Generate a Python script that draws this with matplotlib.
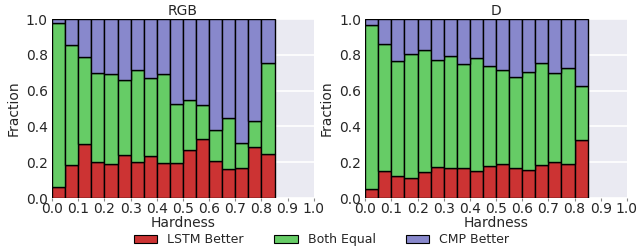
import numpy as np
import matplotlib
matplotlib.use('Agg')
import matplotlib.pyplot as plt

# 每个区间的左边界 (宽 0.05)
bins = np.arange(0, 0.85, 0.05)

rgb_lstm = [0.06, 0.185, 0.30, 0.204, 0.19, 0.238, 0.204, 0.234, 0.197,
            0.197, 0.266, 0.328, 0.206, 0.163, 0.17, 0.285, 0.249]
rgb_equal = [0.92, 0.669, 0.488, 0.494, 0.503, 0.421, 0.513, 0.436, 0.496,
             0.327, 0.283, 0.191, 0.174, 0.285, 0.137, 0.144, 0.504]
rgb_cmp = [0.02, 0.146, 0.212, 0.302, 0.307, 0.341, 0.283, 0.33, 0.307,
           0.476, 0.451, 0.481, 0.62, 0.552, 0.693, 0.571, 0.247]

d_lstm = [0.05, 0.152, 0.122, 0.11, 0.144, 0.172, 0.167, 0.17, 0.15,
          0.178, 0.191, 0.17, 0.155, 0.187, 0.202, 0.191, 0.322]
d_equal = [0.916, 0.711, 0.642, 0.697, 0.684, 0.601, 0.627, 0.579, 0.633,
           0.56, 0.524, 0.508, 0.549, 0.57, 0.498, 0.536, 0.305]
d_cmp = [0.034, 0.137, 0.236, 0.193, 0.172, 0.227, 0.206, 0.251, 0.217,
         0.262, 0.285, 0.322, 0.296, 0.243, 0.30, 0.273, 0.373]

labels = ['LSTM Better', 'Both Equal', 'CMP Better']
colors = ['#cc3333', '#66cc66', '#8888cc']
txt = '#262626'

plt.rcParams['font.family'] = ['DejaVu Sans']
plt.rcParams['font.size'] = 10

fig = plt.figure(figsize=(6.43, 2.47), dpi=100)
ax1 = fig.add_axes([0.081, 0.198, 0.407, 0.725])
ax2 = fig.add_axes([0.568, 0.198, 0.407, 0.725])

handles = None
for ax, title, parts in [(ax1, 'RGB', (rgb_lstm, rgb_equal, rgb_cmp)),
                         (ax2, 'D', (d_lstm, d_equal, d_cmp))]:
    ax.set_facecolor('#eaeaf2')
    ax.set_axisbelow(True)
    ax.yaxis.grid(True, color='white', linewidth=1.2)
    bottom = np.zeros(len(bins))
    hs = []
    for vals, c, lab in zip(parts, colors, labels):
        h = ax.bar(bins, vals, width=0.05, bottom=bottom, align='edge',
                   color=c, edgecolor='black', linewidth=1.0, label=lab)
        bottom += np.array(vals)
        hs.append(h)
    handles = hs
    for s in ax.spines.values():
        s.set_visible(False)
    ax.set_xlim(0, 1)
    ax.set_ylim(0, 1)
    ax.set_xticks(np.arange(0, 1.01, 0.1))
    ax.set_yticks(np.arange(0, 1.01, 0.2))
    ax.tick_params(colors=txt, labelsize=10, length=2, width=0.8)
    ax.tick_params(axis='x', colors='#888888', labelcolor=txt, pad=1)
    ax.tick_params(axis='y', length=0, pad=3)
    ax.set_title(title, fontsize=10, color=txt, pad=3)
    ax.set_xlabel('Hardness', fontsize=10, color=txt, labelpad=0)
    ax.set_ylabel('Fraction', fontsize=10, color=txt, labelpad=4)

leg = fig.legend(handles, labels, loc='center', ncol=3, frameon=False,
                 fontsize=9, bbox_to_anchor=(0.5, 0.03), handlelength=1.9,
                 handleheight=0.6, handletextpad=0.8, columnspacing=2.4,
                 borderpad=0.1, labelcolor=txt)
for p in leg.get_patches():
    p.set_linewidth(0.8)

plt.savefig('out.png', dpi=100)
